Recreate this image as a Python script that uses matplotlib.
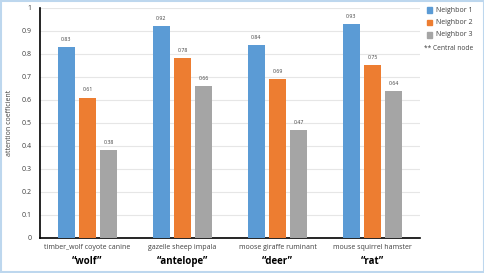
import numpy as np
import matplotlib.pyplot as plt
from matplotlib.patches import Rectangle

plt.rcParams['font.family'] = ['Open Sans', 'DejaVu Sans']

groups = ['timber_wolf coyote canine', 'gazelle sheep impala', 'moose giraffe ruminant', 'mouse squirrel hamster']
centrals = ['\u201cwolf\u201d', '\u201cantelope\u201d', '\u201cdeer\u201d', '\u201crat\u201d']
neighbor1 = [0.83, 0.92, 0.84, 0.93]
neighbor2 = [0.61, 0.78, 0.69, 0.75]
neighbor3 = [0.38, 0.66, 0.47, 0.64]
series = ['Neighbor 1', 'Neighbor 2', 'Neighbor 3']
colors = ['#5b9bd5', '#ed7d31', '#a5a5a5']

fig = plt.figure(figsize=(4.85, 2.73), dpi=100)
ax = fig.add_axes([40 / 485, 1 - 237.5 / 273, 380 / 485, 229.5 / 273])

x = np.arange(len(groups))
w = 0.18
for i, (vals, name, c) in enumerate(zip([neighbor1, neighbor2, neighbor3], series, colors)):
    bars = ax.bar(x + (i - 1) * 0.222, vals, w, color=c, label=name, zorder=3)
    for b, v in zip(bars, vals):
        ax.text(b.get_x() + b.get_width() / 2, v + 0.022, f'{v:.2f}', ha='center', va='bottom',
                fontsize=3.8, color='#404040')

ax.set_xlim(-0.5, 3.5)
ax.set_ylim(0, 1)
ax.set_yticks(np.arange(0, 1.01, 0.1))
ax.set_yticklabels(['0'] + [f'{t:.1f}' for t in np.arange(0.1, 0.95, 0.1)] + ['1'], fontsize=5, color='#404040')
ax.set_xticks(x)
ax.set_xticklabels(groups, fontsize=5, color='#404040')
ax.tick_params(length=0, pad=6)
ax.tick_params(axis='x', pad=5)
ax.grid(axis='y', color='#e6e6e6', linewidth=0.8, zorder=0)
for s in ['top', 'right']:
    ax.spines[s].set_visible(False)
ax.spines['left'].set_linewidth(1.2)
ax.spines['bottom'].set_linewidth(1.2)
ax.set_ylabel('attention coefficient', fontsize=5, color='#404040', labelpad=6)

for xi, name in zip(x, centrals):
    ax.text(xi, -0.105, name, ha='center', va='center', fontsize=7, fontweight='bold',
            transform=ax.get_xaxis_transform(), clip_on=False)

# legend
for i, (name, c) in enumerate(zip(series, colors)):
    yy = 1 - (10 + 12.5 * i) / 273
    fig.patches.append(Rectangle((427 / 485, yy - 2.5 / 273), 5 / 485, 5 / 273,
                                 transform=fig.transFigure, color=c))
    fig.text(436 / 485, yy, name, fontsize=5, va='center', color='#404040')
fig.text(424 / 485, 1 - 48 / 273, '** Central node', fontsize=4.8, va='center', color='#404040')

fig.patches.append(Rectangle((0.002, 0.003), 0.996, 0.994, transform=fig.transFigure,
                             fill=False, edgecolor='#bdd7ee', linewidth=1.5))

fig.savefig('out.png', dpi=100)
